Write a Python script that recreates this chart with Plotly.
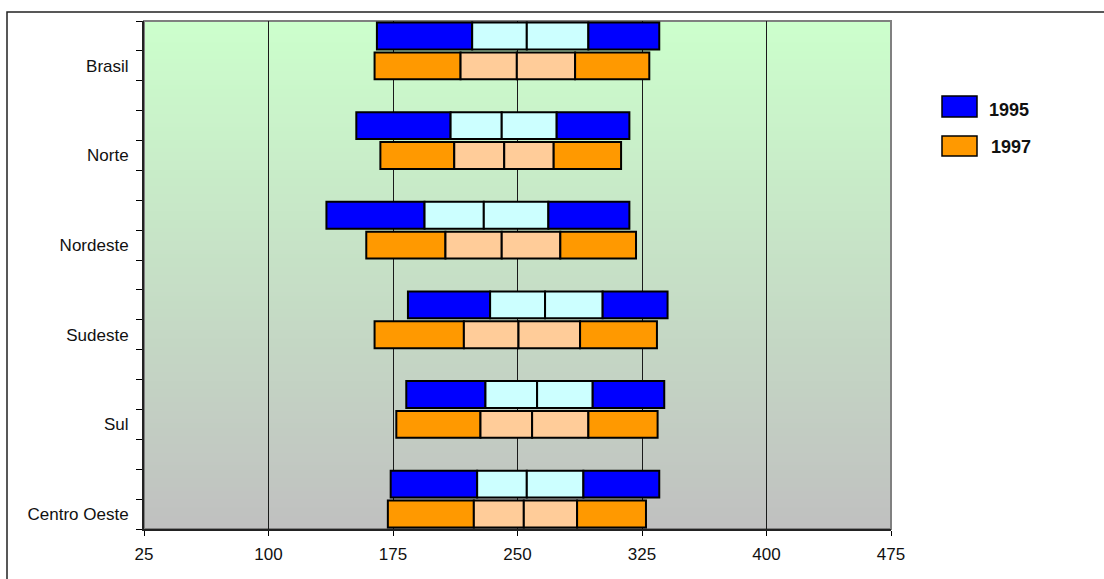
import plotly.graph_objects as go

# Regions and years
regions = ["Brasil", "Norte", "Nordeste", "Sudeste", "Sul", "Centro Oeste"]
years = ["1995", "1997"]

# Percentiles of the score distribution (10, 25, 50, 75, 90) - 1995
p10_95 = [165.3, 152.9, 134.9, 184.0, 183.0, 173.6]
p25_95 = [222.7, 209.7, 194.0, 233.5, 230.7, 225.7]
p50_95 = [255.6, 240.5, 229.7, 266.6, 261.8, 255.6]
p75_95 = [292.7, 273.6, 268.6, 301.3, 295.3, 289.7]
p90_95 = [335.4, 317.4, 317.4, 340.4, 338.4, 335.4]

# Percentiles - 1997
p10_97 = [163.9, 167.4, 158.9, 163.9, 177.0, 171.9]
p25_97 = [215.7, 211.9, 206.6, 217.7, 227.7, 223.7]
p50_97 = [249.6, 242.0, 240.5, 250.6, 258.8, 253.8]
p75_97 = [284.7, 271.8, 275.8, 287.7, 292.7, 285.9]
p90_97 = [329.4, 312.4, 321.4, 334.0, 334.4, 327.4]

x_ticks = [25, 100, 175, 250, 325, 400, 475]

W, H = 1104, 579
ML, MR, MT, MB = 144, 213, 21, 50
PW, PH = W - ML - MR, H - MT - MB


def px(x):
    return (x - ML) / PW


def py(y):
    return (H - MB - y) / PH


FONT = "Liberation Sans, Arial, sans-serif"

year_data = {
    "1995": [p10_95, p25_95, p50_95, p75_95, p90_95],
    "1997": [p10_97, p25_97, p50_97, p75_97, p90_97],
}
outer = {"1995": "#0000FF", "1997": "#FF9900"}
inner = {"1995": "#CCFFFF", "1997": "#FFCC99"}

fig = go.Figure()

for j, yr in enumerate(years):
    pts = year_data[yr]
    ypos = [3 * i + j for i in range(len(regions))]
    for s in range(4):
        lo, hi = pts[s], pts[s + 1]
        color = outer[yr] if s in (0, 3) else inner[yr]
        fig.add_trace(go.Bar(
            y=ypos,
            base=lo,
            x=[h - l for l, h in zip(lo, hi)],
            orientation="h",
            width=0.9,
            marker=dict(color=color, line=dict(color="black", width=2)),
            name=yr,
            showlegend=False,
            hoverinfo="skip",
        ))

shapes = []
# vertical gradient background of the plot area (green at top to grey at bottom)
top_c = (204, 255, 204)
bot_c = (192, 192, 192)
n = 120
for k in range(n):
    t = (k + 0.5) / n
    c = tuple(round(bot_c[m] + (top_c[m] - bot_c[m]) * t) for m in range(3))
    shapes.append(dict(
        type="rect", xref="x domain", yref="y domain",
        x0=0, x1=1, y0=k / n, y1=(k + 1) / n + 0.002,
        fillcolor="rgb(%d,%d,%d)" % c, line=dict(width=0), layer="below",
    ))
# plot area frame
shapes.append(dict(type="rect", xref="x domain", yref="y domain", x0=0, x1=1, y0=0, y1=1,
                   line=dict(color="#808080", width=2), layer="below"))
# chart border
shapes.append(dict(type="rect", xref="paper", yref="paper",
                   x0=px(7), x1=px(W + 20), y0=py(H + 20), y1=py(12),
                   line=dict(color="#222222", width=1.5), fillcolor="rgba(0,0,0,0)", layer="above"))

annotations = []
# legend
legend_rows = [(96, 117, 987, 109.5), (136, 156, 989, 146.5)]
for yr, (y0, y1, tx, ty) in zip(years, legend_rows):
    shapes.append(dict(type="rect", xref="paper", yref="paper",
                       x0=px(942), x1=px(977), y0=py(y1), y1=py(y0),
                       fillcolor=outer[yr], line=dict(color="black", width=1.5), layer="above"))
    annotations.append(dict(xref="paper", yref="paper", x=px(tx), y=py(ty),
                            xanchor="left", yanchor="middle", showarrow=False,
                            text="<b>%s</b>" % yr,
                            font=dict(family=FONT, size=18, color="#111111")))

fig.update_layout(
    width=W, height=H,
    margin=dict(l=ML, r=MR, t=MT, b=MB, pad=0),
    paper_bgcolor="white",
    plot_bgcolor="rgba(0,0,0,0)",
    barmode="overlay",
    shapes=shapes,
    annotations=annotations,
    showlegend=False,
    font=dict(family=FONT, size=17, color="#111111"),
    xaxis=dict(
        range=[25, 475], tickmode="array", tickvals=x_ticks,
        ticktext=[str(v) for v in x_ticks],
        showgrid=True, gridcolor="#1a1a1a", gridwidth=1,
        ticks="outside", ticklen=5, tickcolor="black", tickwidth=1,
        showline=True, linecolor="#222222", linewidth=2,
        zeroline=False, tickfont=dict(size=17), ticklabelstandoff=4,
    ),
    yaxis=dict(
        range=[16.5, -0.5], tickmode="array",
        tickvals=[3 * i + 1 for i in range(len(regions))],
        ticktext=regions,
        showgrid=False, zeroline=False,
        ticks="", ticklabelstandoff=10,
        showline=True, linecolor="#222222", linewidth=2,
        tickfont=dict(size=17),
        minor=dict(tickmode="array", tickvals=[i - 0.5 for i in range(18)],
                   ticks="outside", ticklen=6, tickcolor="black", tickwidth=1,
                   showgrid=False),
    ),
)

fig.write_html("out.html")
